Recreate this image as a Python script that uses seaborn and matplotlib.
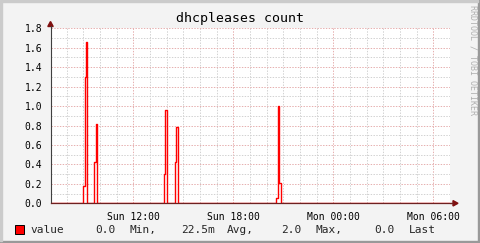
import matplotlib
matplotlib.use('Agg')
import matplotlib.pyplot as plt
import matplotlib.dates as mdates
from matplotlib.ticker import MultipleLocator, FormatStrFormatter
from matplotlib.patches import Polygon, Rectangle
import seaborn as sns
import pandas as pd
import numpy as np

# ---------------- data ----------------
title = "dhcpleases count"
start_time = "2024-01-07 07:02"
end_time = "2024-01-08 07:02"
spike_times = ["09:00", "09:05", "09:10", "09:15",
               "09:40", "09:45", "09:50",
               "13:50", "13:55", "14:00",
               "14:30", "14:35", "14:40",
               "20:35", "20:40", "20:45", "20:50"]
spike_values = [0.18, 1.30, 1.66, 0.0,
                0.42, 0.82, 0.0,
                0.30, 0.96, 0.0,
                0.42, 0.78, 0.0,
                0.05, 1.00, 0.21, 0.0]
legend_name = "value"
legend_stats = ["0.0", "Min,", "22.5m", "Avg,", "2.0", "Max,", "0.0", "Last"]
watermark = "RRDTOOL / TOBI OETIKER"

# ---------------- series ----------------
idx = pd.date_range("2024-01-07 07:00", "2024-01-08 07:05", freq="5min")
vals = pd.Series(0.0, index=idx)
for t, v in zip(spike_times, spike_values):
    vals[pd.Timestamp("2024-01-07 " + t)] = v
df = pd.DataFrame({"time": idx, "value": vals.values})

# ---------------- style ----------------
sns.set_theme(style="white")
plt.rcParams['font.family'] = ['DejaVu Sans Mono']

W, H = 481, 243
fig = plt.figure(figsize=(W / 100, H / 100), dpi=100)
fig.patch.set_facecolor('#F3F3F3')

def fx(px):
    return px / W

def fy(py):
    return 1 - py / H

left_px, right_px, top_px, bot_px = 50.5, 450.5, 28.3, 203.3
ax = fig.add_axes([fx(left_px), fy(bot_px), (right_px - left_px) / W, (bot_px - top_px) / H])
ax.set_facecolor('white')

sns.lineplot(data=df, x="time", y="value", ax=ax, color='#FF0000',
             linewidth=1.0, drawstyle='steps-post', legend=False)

ax.set_xlim(pd.Timestamp(start_time), pd.Timestamp(end_time))
ax.set_ylim(0, 1.8)
ax.set_xlabel("")
ax.set_ylabel("")

ax.xaxis.set_major_locator(mdates.HourLocator(byhour=[0, 6, 12, 18]))
ax.xaxis.set_minor_locator(mdates.HourLocator(interval=1))
ax.xaxis.set_major_formatter(mdates.DateFormatter('%a %H:%M'))
ax.yaxis.set_major_locator(MultipleLocator(0.2))
ax.yaxis.set_minor_locator(MultipleLocator(0.1))
ax.yaxis.set_major_formatter(FormatStrFormatter('%.1f'))

ax.set_axisbelow(True)
ax.grid(which='minor', color='#D2D2D2', linestyle=(0, (1.4, 1.4)), linewidth=0.72)
ax.grid(which='major', color='#E6B0B0', linestyle=(0, (1.4, 1.4)), linewidth=0.72)

ax.tick_params(axis='both', which='major', direction='inout', length=4, width=0.7,
               color='#505050', labelsize=7, labelcolor='black', pad=3)
ax.tick_params(axis='both', which='minor', direction='inout', length=2, width=0.6,
               color='#A0A0A0')
ax.tick_params(axis='x', which='major', pad=4)
ax.tick_params(axis='y', which='major', pad=4)

for s in ['top', 'right']:
    ax.spines[s].set_visible(False)
ax.spines['left'].set_color('#404040')
ax.spines['left'].set_linewidth(0.8)
ax.spines['bottom'].set_color('#6E2020')
ax.spines['bottom'].set_linewidth(0.9)

# arrows
fig.add_artist(Polygon([(fx(50.5), fy(21.5)), (fx(47.8), fy(26.5)), (fx(53.2), fy(26.5))],
                       closed=True, transform=fig.transFigure, color='#7F1010'))
fig.add_artist(plt.Line2D([fx(50.5), fx(50.5)], [fy(28.3), fy(26)],
                          transform=fig.transFigure, color='#404040', lw=0.8))
fig.add_artist(Polygon([(fx(458), fy(203.3)), (fx(453), fy(200.6)), (fx(453), fy(206))],
                       closed=True, transform=fig.transFigure, color='#7F1010'))
fig.add_artist(plt.Line2D([fx(450.5), fx(453.5)], [fy(203.3), fy(203.3)],
                          transform=fig.transFigure, color='#6E2020', lw=0.9))

# title
fig.text(fx(240.5), fy(18.5), title, ha='center', va='center', fontsize=9.5, color='black')

# watermark
fig.text(fx(473), fy(5), watermark, rotation=270, ha='center', va='top',
         fontsize=6, color='#B0B0B0')

# legend
fig.add_artist(Rectangle((fx(15), fy(233.5)), 8.5 / W, 8.5 / H, transform=fig.transFigure,
                         facecolor='#FF0000', edgecolor='black', linewidth=0.7))
fig.text(fx(30.5), fy(229.5), legend_name, ha='left', va='center', fontsize=8)
stat_x = [95.5, 130, 181, 227, 281, 316, 374, 409]
for x, s in zip(stat_x, legend_stats):
    fig.text(fx(x), fy(229.5), s, ha='left', va='center', fontsize=8)

# frame border
fig.add_artist(Rectangle((0, 0), 1, 2 / H, transform=fig.transFigure, color='#999999'))
fig.add_artist(Rectangle((1 - 3 / W, 0), 3 / W, 1, transform=fig.transFigure, color='#999999'))
fig.add_artist(Rectangle((0, 1 - 2 / H), 1 - 3 / W, 2 / H, transform=fig.transFigure, color='#CBCBCB'))
fig.add_artist(Rectangle((0, 2 / H), 2 / W, 1 - 4 / H, transform=fig.transFigure, color='#CBCBCB'))

fig.savefig('out.png', dpi=100, facecolor=fig.get_facecolor())
